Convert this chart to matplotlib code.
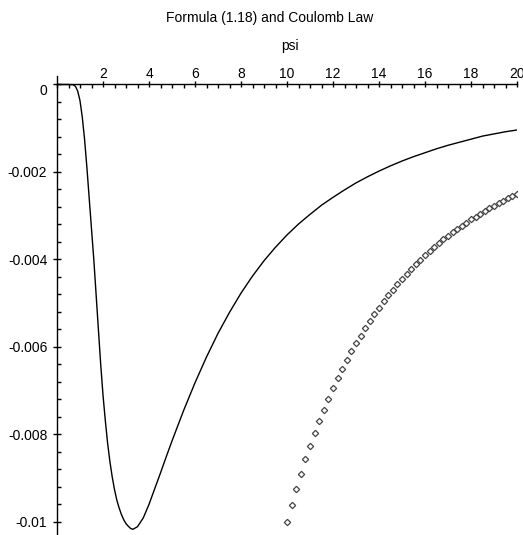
import numpy as np
import matplotlib
matplotlib.use('Agg')
import matplotlib.pyplot as plt
from matplotlib.ticker import MultipleLocator, FuncFormatter

plt.rcParams['font.family'] = ['Liberation Sans', 'DejaVu Sans']
plt.rcParams['axes.unicode_minus'] = False

# Formula (1.18)
psi_formula = [0.0, 0.5, 0.7, 0.8, 0.9, 1.0, 1.1, 1.2, 1.3, 1.4, 1.5, 1.6,
               1.7, 1.8, 1.9, 2.0, 2.1, 2.2, 2.3, 2.4, 2.5, 2.6, 2.7, 2.8,
               2.9, 3.0, 3.1, 3.2, 3.3, 3.5, 3.75, 4.0, 4.25, 4.5, 4.75, 5.0,
               5.5, 6.0, 6.5, 7.0, 7.5, 8.0, 8.5, 9.0, 9.5, 10.0, 10.5, 11.0,
               11.5, 12.0, 12.5, 13.0, 13.5, 14.0, 14.5, 15.0, 15.5, 16.0,
               16.5, 17.0, 17.5, 18.0, 18.5, 19.0, 19.5, 20.0]
val_formula = [0.0, 0.0, -0.000005, -0.00004, -0.00015, -0.00037, -0.00075,
               -0.00126, -0.0019, -0.0026, -0.0033, -0.0040, -0.0048,
               -0.0056, -0.0064, -0.0071, -0.00768, -0.0082, -0.00862,
               -0.00897, -0.00926, -0.0095, -0.00968, -0.00983, -0.00995,
               -0.01004, -0.0101, -0.01015, -0.01017, -0.01011, -0.00991,
               -0.0096, -0.00924, -0.00888, -0.00851, -0.00815, -0.00746,
               -0.00682, -0.00623, -0.00569, -0.00521, -0.00477, -0.00438,
               -0.00403, -0.00372, -0.00344, -0.00319, -0.00297, -0.00276,
               -0.00258, -0.00241, -0.00225, -0.00211, -0.00198, -0.00186,
               -0.00175, -0.00165, -0.00156, -0.00147, -0.00139, -0.00132,
               -0.00125, -0.00118, -0.00113, -0.00108, -0.00104]

# Coulomb law points
psi_coulomb = [10.0, 10.2, 10.4, 10.6, 10.8, 11.0, 11.2, 11.4, 11.6, 11.8,
               12.0, 12.2, 12.4, 12.6, 12.8, 13.0, 13.2, 13.4, 13.6, 13.8,
               14.0, 14.2, 14.4, 14.6, 14.8, 15.0, 15.2, 15.4, 15.6, 15.8,
               16.0, 16.2, 16.4, 16.6, 16.8, 17.0, 17.2, 17.4, 17.6, 17.8,
               18.0, 18.2, 18.4, 18.6, 18.8, 19.0, 19.2, 19.4, 19.6, 19.8,
               20.0]
val_coulomb = [-0.01, -0.009612, -0.009246, -0.0089, -0.008573, -0.008264,
               -0.007972, -0.007695, -0.007432, -0.007182, -0.006944,
               -0.006719, -0.006504, -0.006299, -0.006104, -0.005917,
               -0.005739, -0.005569, -0.005407, -0.005251, -0.005102,
               -0.004959, -0.004823, -0.004691, -0.004565, -0.004444,
               -0.004328, -0.004217, -0.004109, -0.004006, -0.003906,
               -0.00381, -0.003718, -0.003629, -0.003543, -0.00346,
               -0.00338, -0.003303, -0.003228, -0.003156, -0.003086,
               -0.003019, -0.002954, -0.00289, -0.002829, -0.00277,
               -0.002713, -0.002657, -0.002603, -0.002551, -0.0025]

x_ticks = [2, 4, 6, 8, 10, 12, 14, 16, 18, 20]
y_ticks = [0, -0.002, -0.004, -0.006, -0.008, -0.01]

W, H = 523, 535
fig = plt.figure(figsize=(W / 100, H / 100), dpi=100)
ax = fig.add_axes([57 / W, 0.0, 460 / W, (H - 75.75) / H])

ax.plot(psi_formula, val_formula, color='black', lw=1.0)
ax.plot(psi_coulomb, val_coulomb, ls='none', marker='D', ms=3.2,
        mfc='white', mec='#444444', mew=0.9)

ax.set_xlim(0, 20)
ax.set_ylim(-0.0103, 0.0002)

for s in ['right', 'bottom']:
    ax.spines[s].set_visible(False)
ax.spines['top'].set_position(('data', 0))
ax.spines['left'].set_position(('data', 0))
for s in ['top', 'left']:
    ax.spines[s].set_linewidth(1.0)

ax.xaxis.set_ticks_position('top')
ax.set_xticks(x_ticks)
ax.xaxis.set_minor_locator(MultipleLocator(0.5))
ax.set_yticks(y_ticks)
ax.yaxis.set_minor_locator(MultipleLocator(0.0004))
ax.yaxis.set_major_formatter(FuncFormatter(lambda v, p: '' if v == 0 else f'{v:g}'))

ax.tick_params(axis='x', which='major', direction='inout', length=5, width=1,
               pad=0, labelsize=10)
ax.tick_params(axis='x', which='minor', direction='in', length=3, width=1)
ax.tick_params(axis='y', which='major', direction='inout', length=6, width=1,
               pad=4, labelsize=10)
ax.tick_params(axis='y', which='minor', direction='in', length=3, width=1)

# "0" label sits a bit below the axis, as in the original
ax.annotate('0', xy=(0, 0), xytext=(-7, -5), textcoords='offset points',
            ha='right', va='center', fontsize=10)

fig.text(270 / W, 1 - 18 / H, 'Formula (1.18) and Coulomb Law',
         ha='center', va='center', fontsize=10)
fig.text(290 / W, 1 - 46 / H, 'psi', ha='center', va='center', fontsize=10)

fig.savefig('out.png', dpi=100)
